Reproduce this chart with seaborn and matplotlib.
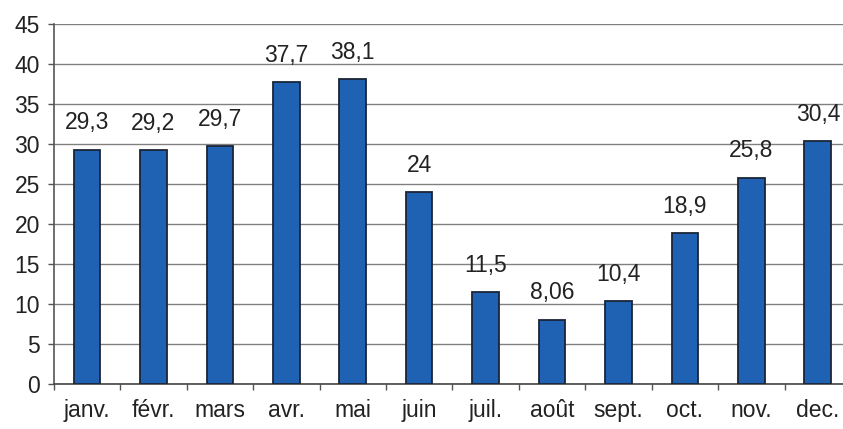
import matplotlib
matplotlib.use("Agg")
import matplotlib.pyplot as plt
import seaborn as sns
import pandas as pd
from matplotlib.ticker import FixedLocator

months = ["janv.", "févr.", "mars", "avr.", "mai", "juin", "juil.", "août", "sept.", "oct.", "nov.", "dec."]
values = [29.3, 29.2, 29.7, 37.7, 38.1, 24, 11.5, 8.06, 10.4, 18.9, 25.8, 30.4]
value_labels = ["29,3", "29,2", "29,7", "37,7", "38,1", "24", "11,5", "8,06", "10,4", "18,9", "25,8", "30,4"]
yticks = [0, 5, 10, 15, 20, 25, 30, 35, 40, 45]

sns.set_theme(style="white")
plt.rcParams["font.family"] = ["Liberation Sans", "DejaVu Sans"]

df = pd.DataFrame({"mois": months, "valeur": values})

fig = plt.figure(figsize=(8.43, 4.29), dpi=100)
ax = fig.add_axes([53.8 / 843, (429 - 384) / 429, (851 - 53.8) / 843, (384 - 24) / 429])

sns.barplot(data=df, x="mois", y="valeur", ax=ax, color="#1f62b3", saturation=1,
            edgecolor="#1a2538", linewidth=1.3, width=0.4, zorder=3)

fs = 16.5
ax.set_ylim(0, 45)
ax.set_xlim(-0.5, len(months) - 0.5)
ax.set_yticks(yticks)
ax.set_yticklabels([str(t) for t in yticks], fontsize=fs, color="#222222")
ax.yaxis.grid(True, color="#808080", linewidth=1.0, zorder=0)
ax.set_axisbelow(True)

ax.set_xticks(range(len(months)))
ax.set_xticklabels(months, fontsize=fs, color="#222222")
ax.xaxis.set_minor_locator(FixedLocator([i + 0.5 for i in range(-1, len(months))]))
ax.tick_params(axis="x", which="major", length=0, pad=11)
ax.tick_params(axis="x", which="minor", length=4, width=1, color="#555555", direction="out", bottom=True)
ax.tick_params(axis="y", length=4, width=1, color="#555555", direction="out", left=True, pad=6)

ax.set_xlabel("")
ax.set_ylabel("")
for s in ["top", "right"]:
    ax.spines[s].set_visible(False)
ax.spines["left"].set_color("#555555")
ax.spines["bottom"].set_color("#444444")
ax.spines["left"].set_linewidth(1.2)
ax.spines["bottom"].set_linewidth(1.2)

for i, (v, lab) in enumerate(zip(values, value_labels)):
    ax.annotate(lab, xy=(i, v), xytext=(0, 11), textcoords="offset points",
                ha="center", va="bottom", fontsize=fs, color="#222222", zorder=4)

fig.savefig("out.png", dpi=100)
